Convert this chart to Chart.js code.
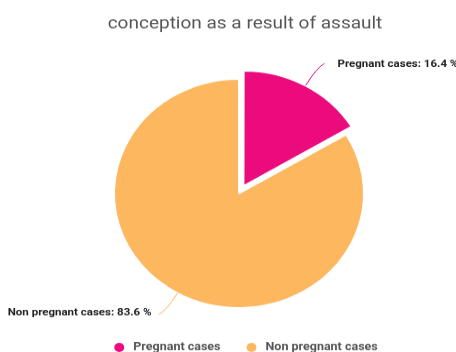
<!DOCTYPE html>
<html lang="en">
<head>
  <meta charset="UTF-8" />
  <title>Conception as a result of assault</title>
  <script src="https://cdn.jsdelivr.net/npm/chart.js"></script>
  <style>
    html, body { margin: 0; padding: 0; background: #fff; overflow: hidden; }
    /* the source picture is squashed vertically, so the pie is drawn a bit taller and scaled down */
    #wrap { width: 456px; height: 384px; transform: scaleY(0.9167); transform-origin: 0 0; }
  </style>
</head>
<body>
  <div id="wrap"><canvas id="pieChart" width="456" height="384"></canvas></div>

  <script>
    const labels = ['Pregnant cases', 'Non pregnant cases'];
    const values = [16.4, 83.6];
    const colors = ['#EC0B7D', '#FDB75F'];
    const titleText = 'conception as a result of assault';

    // title, legend and the outside labels with leader lines
    const decor = {
      id: 'decor',
      afterDraw(chart) {
        const ctx = chart.ctx;
        ctx.save();

        // title
        ctx.font = '19px Roboto';
        ctx.fillStyle = '#555';
        ctx.textAlign = 'center';
        ctx.textBaseline = 'middle';
        ctx.fillText(titleText, 245, 26);

        // slice labels
        const meta = chart.getDatasetMeta(0);
        ctx.font = 'bold 11.5px Roboto';
        meta.data.forEach((arc, i) => {
          const mid = (arc.startAngle + arc.endAngle) / 2;
          const cos = Math.cos(mid), sin = Math.sin(mid);
          const shift = (arc.options.offset || 0) / 4;
          const fix = 1 - Math.sin(Math.min(Math.PI, arc.circumference));
          const r = arc.outerRadius + shift * fix;
          const cx = arc.x + cos * shift, cy = arc.y + sin * shift;
          const x0 = cx + cos * r, y0 = cy + sin * r;
          const x1 = cx + cos * (r + 22), y1 = cy + sin * (r + 22);
          const side = cos >= 0 ? 1 : -1;
          const x2 = x1 + side * 8, y2 = y1 + (sin >= 0 ? 4 : -5);

          ctx.beginPath();
          ctx.moveTo(x0, y0);
          ctx.quadraticCurveTo(x1, y1, x2, y2);
          ctx.strokeStyle = colors[i];
          ctx.lineWidth = 1;
          ctx.stroke();

          ctx.fillStyle = '#222';
          ctx.textAlign = side > 0 ? 'left' : 'right';
          ctx.fillText(labels[i] + ': ' + values[i] + ' %', x2 + side * (side > 0 ? 13 : 7), y2 + (side > 0 ? 1 : -2));
        });

        // legend
        ctx.font = 'bold 12.5px Roboto';
        ctx.textAlign = 'left';
        const dotR = 5, gapText = 9, gapItem = 26, ly = 379;
        const widths = labels.map(t => ctx.measureText(t).width);
        const total = widths.reduce((s, w) => s + dotR * 2 + gapText + w, 0) + gapItem * (labels.length - 1);
        let x = 246 - total / 2;
        labels.forEach((t, i) => {
          ctx.beginPath();
          ctx.arc(x + dotR, ly, dotR, 0, Math.PI * 2);
          ctx.fillStyle = colors[i];
          ctx.fill();
          ctx.fillStyle = '#555';
          ctx.fillText(t, x + dotR * 2 + gapText, ly);
          x += dotR * 2 + gapText + widths[i] + gapItem;
        });

        ctx.restore();
      }
    };

    new Chart(document.getElementById('pieChart'), {
      type: 'pie',
      data: {
        labels: labels,
        datasets: [{
          data: values,
          backgroundColor: colors,
          borderColor: '#fff',
          borderWidth: 2,
          offset: [36, 0],
          hoverOffset: 0
        }]
      },
      options: {
        responsive: false,
        animation: false,
        layout: { padding: { top: 67, bottom: 29, left: 95, right: 73 } },
        plugins: {
          legend: { display: false },
          title: { display: false },
          tooltip: { enabled: false }
        }
      },
      plugins: [decor]
    });
  </script>
</body>
</html>
